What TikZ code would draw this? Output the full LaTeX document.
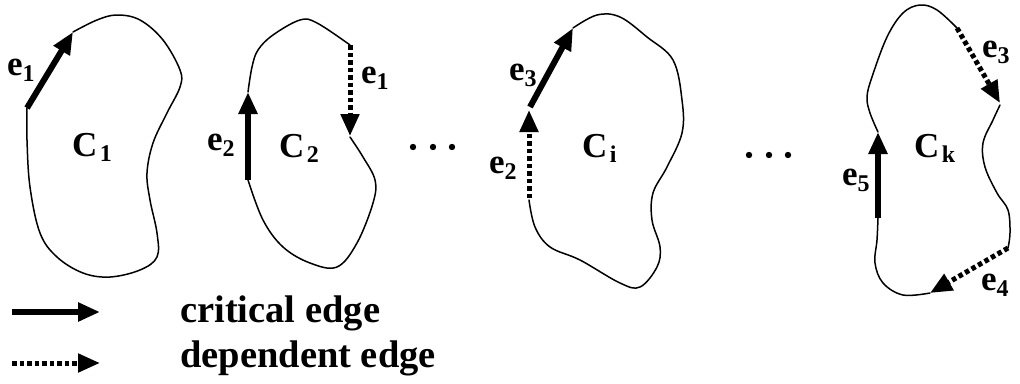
\documentclass[tikz,border=0pt]{standalone}
\usepackage{fontspec}
\setmainfont{Liberation Serif}
\usetikzlibrary{arrows.meta}
\newcommand{\esub}[1]{e\raisebox{-6pt}{\fontsize{24}{24}\selectfont #1}}
\newcommand{\csub}[1]{C\kern2.5pt\raisebox{-5pt}{\fontsize{24}{24}\selectfont #1}}
\tikzset{
  outline/.style={line width=1.5pt, line join=round, line cap=round},
  crit/.style={line width=6pt, -{Triangle[length=22pt,width=18pt]}},
  dep/.style={line width=5pt, dash pattern=on 4.5pt off 3pt, -{Triangle[length=22pt,width=18pt]}},
  lab/.style={anchor=base west, inner sep=0pt, font=\fontsize{35}{40}\selectfont\bfseries},
  leg/.style={anchor=base west, inner sep=0pt, font=\fontsize{38.5}{42}\selectfont\bfseries},
  dotmark/.style={fill=black},
}
\begin{document}
\begin{tikzpicture}[x=1pt,y=-1pt]
\useasboundingbox (0,0) rectangle (1020,383);
% ---------- C1 ----------
\coordinate (a1s) at (27,108);
\coordinate (a1e) at (73,32);
\draw[outline] plot[smooth, tension=0.6] coordinates {(73,32) (97,20) (117,15) (140,20) (163,40) (180,70) (180,87) (167,113) (153,143) (147,173) (150,200) (157,233) (157,257) (140,270) (110,277) (83,273) (57,257) (40,233) (30,187) (27,140) (27,108)};
\draw[crit] (a1s) -- (a1e);
\node[lab] (le1) at (7,75) {\esub{1}};
\node[lab] (lc1) at (72,156) {\csub{1}};
% ---------- C2 ----------
\coordinate (b2s) at (248,180);
\coordinate (b2e) at (248,92);
\coordinate (b1s) at (350,45);
\coordinate (b1e) at (350,136);
\draw[outline] plot[smooth, tension=0.6] coordinates {(248,92) (252,67) (258,50) (273,35) (300,20) (317,23) (350,45)};
\draw[outline] plot[smooth, tension=0.6] coordinates {(350,137) (363,157) (375,180) (373,203) (357,243) (337,267) (310,263) (283,247) (263,220) (248,180)};
\draw[crit] (b2s) -- (b2e);
\draw[dep] (b1s) -- (b1e);
\node[lab] (le2b) at (207,150) {\esub{2}};
\node[lab] (lc2) at (279,157) {\csub{2}};
\node[lab] (le1b) at (361,83) {\esub{1}};
% ---------- dots ----------
\fill[dotmark] (413,147) circle (3.2pt) (433,147) circle (3.2pt) (452,147) circle (3.2pt);
\fill[dotmark] (749,155) circle (3.2pt) (769,155) circle (3.2pt) (788,155) circle (3.2pt);
% ---------- Ci ----------
\coordinate (i2s) at (529,198);
\coordinate (i2e) at (529,110);
\coordinate (i3s) at (530,107);
\coordinate (i3e) at (573,28);
\draw[outline] plot[smooth, tension=0.6] coordinates {(573,28) (597,15) (620,17) (647,37) (673,60) (682,100) (682,133) (667,167) (653,193) (652,220) (660,247) (657,267) (640,287) (620,283) (580,260) (550,247) (535,227) (529,200)};
\draw[dep] (i2s) -- (i2e);
\draw[crit] (i3s) -- (i3e);
\node[lab] (le3i) at (509,80) {\esub{3}};
\node[lab] (le2i) at (489,173) {\esub{2}};
\node[lab] (lci) at (582,157) {\csub{i}};
% ---------- Ck ----------
\coordinate (k5s) at (878,218);
\coordinate (k5e) at (878,132);
\coordinate (k3s) at (957,28);
\coordinate (k3e) at (1000,103);
\coordinate (k4s) at (1008,248);
\coordinate (k4e) at (930,293);
\draw[outline] plot[smooth, tension=0.6] coordinates {(878,132) (870,113) (867,97) (872,77) (887,37) (903,13) (920,5) (937,10) (957,28)};
\draw[outline] plot[smooth, tension=0.6] coordinates {(1000,105) (993,120) (983,143) (985,167) (997,193) (1008,210) (1010,233) (1008,248)};
\draw[outline] plot[smooth, tension=0.6] coordinates {(930,293) (903,295) (883,283) (875,263) (877,240) (878,218)};
\draw[crit] (k5s) -- (k5e);
\draw[dep] (k3s) -- (k3e);
\draw[dep] (k4s) -- (k4e);
\node[lab] (le3k) at (982,57) {\esub{3}};
\node[lab] (le4k) at (981,290) {\esub{4}};
\node[lab] (le5k) at (842,185) {\esub{5}};
\node[lab] (lck) at (914,157) {\csub{k}};
% ---------- legend ----------
\coordinate (ls1) at (12,312);
\coordinate (le1l) at (100,312);
\coordinate (ls2) at (12,363);
\coordinate (le2l) at (100,363);
\draw[crit] (ls1) -- (le1l);
\draw[dep] (ls2) -- (le2l);
\node[leg] (tcrit) at (180,322) {critical edge};
\node[leg] (tdep) at (180,367) {dependent edge};
\end{tikzpicture}
\end{document}
